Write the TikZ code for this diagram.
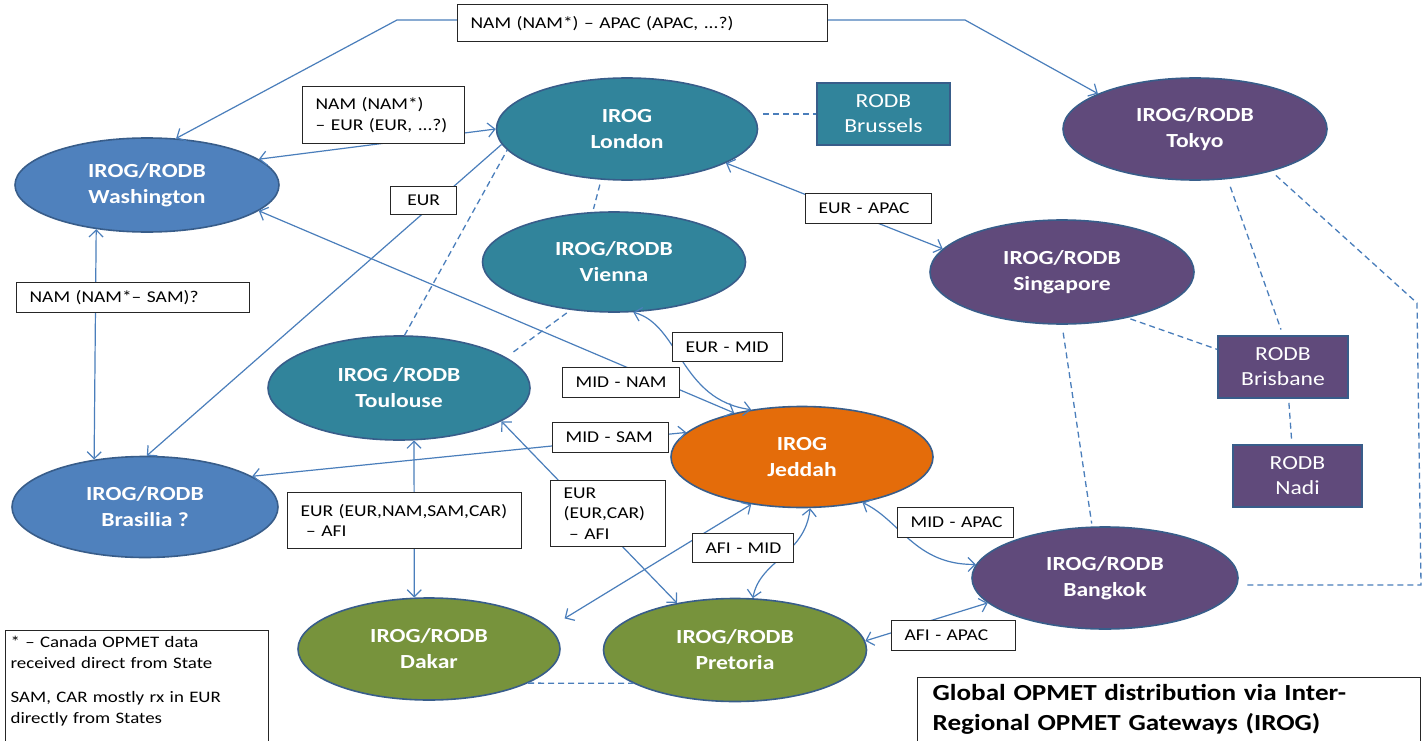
\documentclass[tikz,border=0pt]{standalone}
\usepackage{fontspec}
\setmainfont[FakeStretch=1.18]{Carlito}
\usetikzlibrary{arrows.meta,shapes.geometric}
\definecolor{cblue}{HTML}{4F81BD}
\definecolor{cteal}{HTML}{31849B}
\definecolor{cpurple}{HTML}{604A7B}
\definecolor{corange}{HTML}{E46C0A}
\definecolor{cgreen}{HTML}{77933C}
\definecolor{cborder}{HTML}{385D8A}
\definecolor{cline}{HTML}{4A7EBB}
\tikzset{
  ell/.style={ellipse, draw=cborder, line width=1.6pt, text=white, inner sep=0pt,
    font=\fontsize{20}{26}\selectfont\bfseries, align=center},
  rbox/.style={rectangle, draw=cborder, line width=1.6pt, text=white, inner sep=0pt,
    font=\fontsize{20}{25}\selectfont, align=center},
  lab/.style={rectangle, draw=black!85, line width=1.3pt, fill=white, anchor=north west,
    font=\fontsize{16.5}{20.5}\selectfont, align=left, inner xsep=13pt, inner ysep=0pt},
  conn/.style={draw=cline, line width=1.2pt},
  dconn/.style={draw=cline, line width=1.3pt, dash pattern=on 6pt off 4pt},
  >={Straight Barb[length=7pt,width=14pt]}
}
\begin{document}
\begin{tikzpicture}[x=1pt,y=-1pt]
\useasboundingbox (0,0) rectangle (1424,741);
\fill[white] (0,0) rectangle (1424,741);
\clip (0,0) rectangle (1424,741);

% ellipse nodes
\node[ell, fill=cblue, minimum width=264pt, minimum height=94pt] (wash) at (147,185) {IROG/RODB\\Washington};
\node[ell, fill=cteal, minimum width=261pt, minimum height=102pt] (lond) at (627,129) {IROG\\London};
\node[rbox, fill=cteal, minimum width=133pt, minimum height=62pt] (bru) at (883.5,114) {RODB\\Brussels};
\node[ell, fill=cpurple, minimum width=264pt, minimum height=102pt] (tok) at (1195,129) {IROG/RODB\\Tokyo};
\node[ell, fill=cteal, minimum width=263pt, minimum height=100pt] (vie) at (614,262) {IROG/RODB\\Vienna};
\node[ell, fill=cpurple, minimum width=264pt, minimum height=104pt] (sing) at (1062,272) {IROG/RODB\\Singapore};
\node[ell, fill=cteal, minimum width=262pt, minimum height=104pt] (toul) at (399,388) {IROG /RODB\\Toulouse};
\node[ell, fill=corange, minimum width=262pt, minimum height=101pt] (jed) at (802,457) {IROG\\Jeddah};
\node[ell, fill=cblue, minimum width=266pt, minimum height=101pt] (bras) at (145,507) {IROG/RODB\\Brasilia ?};
\node[ell, fill=cpurple, minimum width=266pt, minimum height=102pt] (bkk) at (1105,578) {IROG/RODB\\Bangkok};
\node[ell, fill=cgreen, minimum width=262pt, minimum height=102pt] (dak) at (429,649) {IROG/RODB\\Dakar};
\node[ell, fill=cgreen, minimum width=263pt, minimum height=103pt] (pre) at (735,650) {IROG/RODB\\Pretoria};
\node[rbox, fill=cpurple, minimum width=130pt, minimum height=62pt] (bris) at (1283,367) {RODB\\Brisbane};
\node[rbox, fill=cpurple, minimum width=129pt, minimum height=62pt] (nadi) at (1297.5,476) {RODB\\Nadi};

\coordinate (c1) at (397,20);
\coordinate (c2) at (965,20);
\coordinate (c3) at (1417,303);
\coordinate (c4) at (1421,585);

% connectors
\draw[conn,<->] (wash.58) -- (c1) -- (c2) -- (tok.160);
\draw[conn,<->] (wash.13) -- (lond.180);
\draw[conn,->] (lond.187) -- (bras.88);
\draw[conn,<->] (wash.-13) -- (jed.147);
\draw[conn,<->] (wash.-139) -- (bras.137);
\draw[conn,<->] (lond.-19) -- (sing.169);
\draw[conn,<->] (vie.-69) .. controls (680,325) and (680,400) .. (jed.137);
\draw[conn,<->] (bras.16) -- (jed.168);
\draw[conn,<->] (toul.-74) -- (dak.106);
\draw[conn,<->] (toul.-18) -- (pre.141);
\draw[conn,<->,shorten <=18pt] (dak.10) -- (jed.-137);
\draw[conn,<->] (pre.71) .. controls (760,560) and (805,555) .. (jed.-81);
\draw[conn,<->] (jed.-37) .. controls (900,520) and (915,565) .. (bkk.174);
\draw[conn,<->] (pre.4) -- (bkk.-168);

% dashed links
\draw[dconn] (toul.84) -- (lond.190);
\draw[dconn,shorten <=5pt,shorten >=3pt] (lond.-117) -- (vie.113);
\draw[dconn,shorten <=5pt] (lond.east |- bru.west) -- (bru.west);
\draw[dconn,shorten <=5pt,shorten >=8pt] (vie.-132) -- (toul.16);
\draw[dconn] (dak.-19) -- (pre.-162);
\draw[dconn,shorten <=8pt,shorten >=6pt] (tok.-57) -- (bris.north);
\draw[dconn,shorten <=6pt,shorten >=6pt] (tok.-29) -- (c3) -- (c4) -- (c4 -| bkk.east);
\draw[dconn,shorten <=3pt] (sing.-35) -- (bris.165);
\draw[dconn,shorten <=4pt,shorten >=5pt] (bris.-80) -- (nadi.100);
\draw[dconn,shorten <=8pt,shorten >=3pt] (sing.-90) -- (bkk.104);

% label boxes
\node[lab, text width=344pt, minimum height=37pt] (lTop) at (457,4) {\mbox{NAM (NAM*) – APAC (APAC, ...?)}};
\node[lab, text width=136pt, minimum height=57pt] (lNE) at (302,86) {\mbox{NAM (NAM*)}\\\mbox{– EUR (EUR, ...?)}};
\node[lab, align=center, text width=40pt, minimum height=28pt] (lEUR) at (390,186) {EUR};
\node[lab, text width=100pt, minimum height=30pt] (lEA) at (805,193) {\mbox{EUR - APAC}};
\node[lab, text width=207pt, minimum height=30pt] (lNS) at (16,282) {\mbox{NAM (NAM*– SAM)?}};
\node[lab, text width=84pt, minimum height=29pt] (lEM) at (672,332) {\mbox{EUR - MID}};
\node[lab, text width=91pt, minimum height=30pt] (lMN) at (562,367) {\mbox{MID - NAM}};
\node[lab, text width=90pt, minimum height=30pt] (lMS) at (552,422) {\mbox{MID - SAM}};
\node[lab, text width=208pt, minimum height=56pt] (lEN) at (287,492) {\mbox{EUR (EUR,NAM,SAM,CAR)}\\\mbox{ – AFI}};
\node[lab, text width=89pt, minimum height=66pt] (lEC) at (550,480) {\mbox{EUR}\\\mbox{(EUR,CAR)}\\\mbox{ – AFI}};
\node[lab, text width=75pt, minimum height=29pt] (lAM) at (692,533) {\mbox{AFI - MID}};
\node[lab, text width=90pt, minimum height=30pt] (lMA) at (897,507) {\mbox{MID - APAC}};
\node[lab, text width=98pt, minimum height=30pt] (lAA) at (891,620) {\mbox{AFI - APAC}};

\node[lab, text width=253pt, inner xsep=5pt, inner ysep=5pt, text depth=110pt,
  font=\fontsize{16}{21}\selectfont] (legend) at (5,630)
  {* – Canada OPMET data\\received direct from State\\[13pt]SAM, CAR mostly rx in EUR\\directly from States};
\node[lab, text width=473pt, inner xsep=15pt, inner ysep=7pt, text depth=60pt,
  font=\fontsize{23}{30}\selectfont\bfseries] (title) at (917,677)
  {Global OPMET distribution via Inter-\\Regional OPMET Gateways (IROG)};
\end{tikzpicture}
\end{document}
